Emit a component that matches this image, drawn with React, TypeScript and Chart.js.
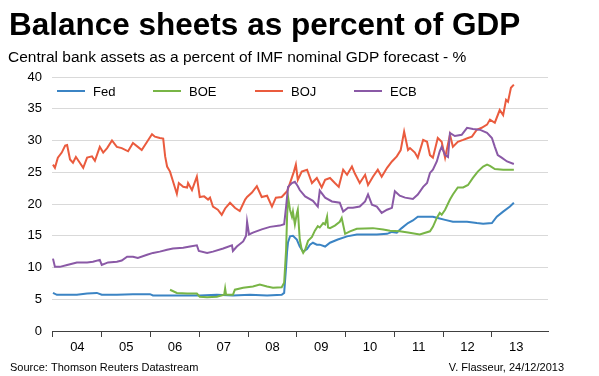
import React, { useEffect, useRef } from 'react';
import { Chart, registerables } from 'chart.js';

Chart.register(...registerables);

const TITLE = 'Balance sheets as percent of GDP';
const SUBTITLE = 'Central bank assets as a percent of IMF nominal GDP forecast - %';
const SOURCE = 'Source: Thomson Reuters Datastream';
const CREDIT = 'V. Flasseur, 24/12/2013';

const seriesNames = ['Fed', 'BOE', 'BOJ', 'ECB'];
const seriesColors = ['#3b84c4', '#78b546', '#ea5b3e', '#8a59a6'];

const yearLabels = ['04', '05', '06', '07', '08', '09', '10', '11', '12', '13'];
const yTickValues = [0, 5, 10, 15, 20, 25, 30, 35, 40];

// Dates are decimal years on the chart's time axis
const fedDates = [2004.00, 2004.08, 2004.49, 2004.70, 2004.90, 2005.00, 2005.31, 2005.64, 2005.99, 2006.05, 2006.34, 2007.01, 2007.36, 2007.69, 2008.04, 2008.39, 2008.69, 2008.74, 2008.78, 2008.80, 2008.82, 2008.86, 2008.92, 2009.00, 2009.06, 2009.13, 2009.21, 2009.27, 2009.33, 2009.41, 2009.47, 2009.58, 2009.68, 2009.84, 2010.03, 2010.23, 2010.64, 2010.85, 2010.95, 2011.05, 2011.15, 2011.28, 2011.38, 2011.48, 2011.79, 2011.89, 2012.04, 2012.20, 2012.49, 2012.69, 2012.82, 2013.00, 2013.10, 2013.23, 2013.37, 2013.45];
const fedValues = [6.0, 5.7, 5.7, 5.9, 6.0, 5.7, 5.7, 5.8, 5.8, 5.6, 5.6, 5.6, 5.7, 5.6, 5.7, 5.6, 5.7, 6.0, 10.1, 12.5, 14.0, 14.9, 15.0, 14.4, 13.3, 12.5, 12.9, 13.6, 13.9, 13.6, 13.6, 13.3, 13.9, 14.4, 14.9, 15.2, 15.2, 15.3, 15.6, 15.5, 16.2, 17.0, 17.4, 18.0, 18.0, 17.8, 17.5, 17.2, 17.2, 17.0, 16.9, 17.0, 18.0, 18.8, 19.6, 20.2];

const boeDates = [2006.40, 2006.54, 2006.75, 2006.95, 2007.01, 2007.16, 2007.36, 2007.51, 2007.53, 2007.55, 2007.69, 2007.73, 2007.90, 2008.10, 2008.24, 2008.39, 2008.51, 2008.69, 2008.74, 2008.78, 2008.80, 2008.82, 2008.86, 2008.90, 2008.92, 2008.96, 2009.00, 2009.02, 2009.06, 2009.10, 2009.13, 2009.17, 2009.23, 2009.31, 2009.37, 2009.43, 2009.47, 2009.54, 2009.58, 2009.62, 2009.64, 2009.68, 2009.78, 2009.88, 2009.92, 2009.99, 2010.09, 2010.23, 2010.56, 2010.77, 2010.91, 2011.11, 2011.28, 2011.52, 2011.73, 2011.79, 2011.87, 2011.93, 2011.97, 2012.04, 2012.14, 2012.20, 2012.30, 2012.41, 2012.51, 2012.61, 2012.71, 2012.82, 2012.90, 2012.96, 2013.06, 2013.23, 2013.45];
const boeValues = [6.5, 6.0, 5.9, 5.9, 5.4, 5.3, 5.4, 5.7, 6.7, 5.7, 5.7, 6.5, 6.8, 7.0, 7.3, 7.0, 6.8, 6.9, 7.6, 12.8, 18.0, 21.1, 19.1, 18.0, 18.8, 16.8, 18.5, 19.1, 14.4, 12.8, 12.3, 12.8, 14.2, 14.8, 15.8, 16.5, 16.3, 17.0, 16.8, 18.0, 16.3, 16.2, 16.6, 17.2, 17.8, 15.3, 15.7, 16.1, 16.2, 16.0, 15.8, 15.7, 15.5, 15.2, 15.7, 16.4, 17.8, 18.6, 18.3, 19.1, 20.7, 21.5, 22.6, 22.6, 23.0, 24.1, 25.1, 25.9, 26.2, 26.0, 25.5, 25.4, 25.4];

const bojDates = [2004.00, 2004.04, 2004.10, 2004.18, 2004.25, 2004.29, 2004.35, 2004.41, 2004.47, 2004.55, 2004.62, 2004.70, 2004.80, 2004.86, 2004.96, 2005.03, 2005.11, 2005.21, 2005.31, 2005.41, 2005.54, 2005.64, 2005.74, 2005.82, 2005.93, 2006.03, 2006.09, 2006.19, 2006.26, 2006.30, 2006.34, 2006.40, 2006.50, 2006.54, 2006.58, 2006.67, 2006.75, 2006.77, 2006.85, 2006.95, 2007.01, 2007.10, 2007.18, 2007.22, 2007.28, 2007.38, 2007.46, 2007.53, 2007.63, 2007.73, 2007.83, 2007.94, 2007.98, 2008.08, 2008.18, 2008.28, 2008.39, 2008.49, 2008.57, 2008.69, 2008.80, 2008.86, 2008.94, 2008.98, 2009.02, 2009.10, 2009.21, 2009.31, 2009.41, 2009.51, 2009.58, 2009.68, 2009.78, 2009.86, 2009.95, 2010.03, 2010.13, 2010.19, 2010.29, 2010.40, 2010.46, 2010.56, 2010.66, 2010.74, 2010.85, 2010.95, 2011.05, 2011.13, 2011.20, 2011.28, 2011.32, 2011.42, 2011.48, 2011.59, 2011.67, 2011.73, 2011.79, 2011.89, 2011.97, 2012.04, 2012.14, 2012.20, 2012.30, 2012.41, 2012.51, 2012.59, 2012.69, 2012.79, 2012.90, 2012.96, 2013.06, 2013.16, 2013.23, 2013.29, 2013.33, 2013.39, 2013.45];
const bojValues = [26.2, 25.7, 27.3, 28.1, 29.2, 29.3, 27.0, 26.5, 27.4, 26.5, 25.7, 27.3, 27.5, 26.8, 29.0, 28.1, 28.8, 30.0, 29.0, 28.8, 28.3, 29.6, 29.0, 28.5, 29.8, 31.0, 30.6, 30.4, 30.3, 27.5, 25.9, 25.1, 22.6, 21.6, 23.3, 22.7, 22.6, 23.3, 22.2, 24.3, 21.1, 21.2, 20.7, 21.0, 19.6, 19.1, 18.3, 19.3, 20.2, 19.4, 18.9, 20.7, 21.1, 21.8, 22.8, 21.1, 21.3, 19.6, 21.0, 21.1, 22.0, 23.3, 25.1, 26.2, 23.8, 25.1, 25.4, 23.3, 24.1, 22.6, 23.8, 24.1, 23.3, 22.7, 25.4, 24.6, 25.9, 24.8, 23.3, 24.6, 23.0, 24.3, 25.4, 24.3, 25.7, 26.7, 27.5, 28.5, 31.4, 28.5, 28.8, 28.1, 27.3, 30.1, 29.8, 27.7, 27.3, 30.4, 29.8, 27.3, 30.9, 29.0, 29.8, 30.1, 30.4, 30.6, 31.7, 32.0, 32.5, 33.3, 32.8, 34.8, 34.0, 36.4, 36.1, 38.3, 38.8];

const ecbDates = [2004.00, 2004.04, 2004.14, 2004.29, 2004.49, 2004.70, 2004.82, 2004.96, 2005.00, 2005.13, 2005.31, 2005.41, 2005.52, 2005.64, 2005.74, 2005.93, 2006.05, 2006.19, 2006.34, 2006.46, 2006.67, 2006.81, 2006.95, 2006.99, 2007.16, 2007.28, 2007.49, 2007.67, 2007.69, 2007.77, 2007.90, 2007.96, 2007.98, 2008.02, 2008.10, 2008.28, 2008.45, 2008.65, 2008.74, 2008.78, 2008.82, 2008.90, 2008.96, 2009.02, 2009.06, 2009.17, 2009.33, 2009.43, 2009.47, 2009.58, 2009.72, 2009.88, 2009.95, 2010.05, 2010.15, 2010.29, 2010.40, 2010.46, 2010.54, 2010.64, 2010.74, 2010.85, 2010.95, 2011.01, 2011.11, 2011.22, 2011.38, 2011.48, 2011.59, 2011.67, 2011.73, 2011.79, 2011.87, 2011.93, 2011.97, 2012.04, 2012.10, 2012.14, 2012.24, 2012.38, 2012.49, 2012.61, 2012.75, 2012.90, 2013.00, 2013.06, 2013.12, 2013.20, 2013.31, 2013.45];
const ecbValues = [11.4, 10.1, 10.1, 10.4, 10.8, 10.8, 10.9, 11.2, 10.4, 10.8, 10.9, 11.1, 11.7, 11.7, 11.5, 12.0, 12.3, 12.5, 12.8, 13.0, 13.1, 13.3, 13.5, 12.6, 12.3, 12.5, 13.0, 13.5, 12.6, 13.3, 14.1, 15.0, 17.2, 15.2, 15.5, 16.0, 16.4, 16.6, 16.8, 19.6, 22.7, 23.3, 23.5, 22.8, 22.2, 21.2, 20.5, 19.6, 22.1, 21.0, 20.4, 20.2, 18.8, 19.4, 19.4, 19.6, 20.4, 21.5, 19.9, 19.6, 18.6, 19.1, 19.4, 22.0, 21.3, 21.0, 20.8, 21.5, 22.7, 23.3, 24.9, 25.4, 26.7, 28.3, 29.0, 27.7, 27.4, 31.2, 30.7, 30.9, 32.0, 31.8, 31.7, 31.2, 30.4, 29.0, 27.7, 27.3, 26.7, 26.3];

const seriesDates = [fedDates, boeDates, bojDates, ecbDates];
const seriesValues = [fedValues, boeValues, bojValues, ecbValues];

const FONT = 'Arial, "Liberation Sans", sans-serif';

const xTickValues: number[] = [];
yearLabels.forEach((_, i) => {
  xTickValues.push(2004 + i);
  xTickValues.push(2004 + i + 0.5);
});

const textPlugin = {
  id: 'textPlugin',
  afterDraw(chart: any) {
    const ctx = chart.ctx;
    const area = chart.chartArea;
    ctx.save();
    ctx.fillStyle = '#000';
    ctx.textBaseline = 'alphabetic';
    ctx.textAlign = 'left';
    ctx.font = `bold 31.5px ${FONT}`;
    ctx.fillText(TITLE, 9, 35);
    ctx.font = `15.5px ${FONT}`;
    ctx.fillText(SUBTITLE, 8, 62);
    ctx.font = `11px ${FONT}`;
    ctx.fillText(SOURCE, 10, 371);
    ctx.textAlign = 'right';
    ctx.fillText(CREDIT, 564, 371);

    // legend inside plot
    const offsets = [5, 101, 203, 302];
    const ly = area.top + 14;
    ctx.textAlign = 'left';
    ctx.textBaseline = 'middle';
    ctx.font = `13px ${FONT}`;
    seriesNames.forEach((name, i) => {
      const x0 = area.left + offsets[i];
      ctx.strokeStyle = seriesColors[i];
      ctx.lineWidth = 2;
      ctx.beginPath();
      ctx.moveTo(x0, ly);
      ctx.lineTo(x0 + 28, ly);
      ctx.stroke();
      ctx.fillStyle = '#000';
      ctx.fillText(name, x0 + 36, ly + 1);
    });
    ctx.restore();
  },
};

export default function App() {
  const canvasRef = useRef<HTMLCanvasElement | null>(null);

  useEffect(() => {
    if (!canvasRef.current) return;
    const datasets = seriesNames.map((name, i) => ({
      label: name,
      data: seriesDates[i].map((d, j) => ({ x: d, y: seriesValues[i][j] })),
      borderColor: seriesColors[i],
      backgroundColor: seriesColors[i],
      borderWidth: 2,
      pointRadius: 0,
      tension: 0,
      fill: false,
      order: 3 - i,
    }));

    const chart = new Chart(canvasRef.current, {
      type: 'line',
      data: { datasets },
      options: {
        animation: false,
        responsive: false,
        devicePixelRatio: 1,
        layout: { padding: { top: 77, right: 51, bottom: 0, left: 0 } },
        plugins: {
          legend: { display: false },
          tooltip: { enabled: false },
          title: { display: false },
        },
        scales: {
          x: {
            type: 'linear',
            min: 2003.98,
            max: 2014.15,
            afterBuildTicks: (scale: any) => {
              scale.ticks = xTickValues.map((v) => ({ value: v }));
            },
            afterFit: (scale: any) => {
              scale.height = 45;
            },
            border: { display: true, color: '#404040', width: 1 },
            grid: {
              drawOnChartArea: false,
              drawTicks: true,
              tickLength: 6,
              tickWidth: 1,
              tickColor: (c: any) =>
                c.tick && c.tick.value % 1 === 0 ? '#404040' : 'rgba(0,0,0,0)',
            },
            ticks: {
              autoSkip: false,
              maxRotation: 0,
              minRotation: 0,
              padding: 3,
              color: '#000',
              font: { family: FONT, size: 13 },
              callback: (value: any) => {
                const v = Number(value);
                if (v % 1 === 0) return '';
                return yearLabels[Math.floor(v) - 2004] ?? '';
              },
            },
          },
          y: {
            min: 0,
            max: 40,
            afterBuildTicks: (scale: any) => {
              scale.ticks = yTickValues.map((v) => ({ value: v }));
            },
            afterFit: (scale: any) => {
              scale.width = 52;
            },
            border: { display: false },
            grid: { color: '#d9d9d9', lineWidth: 1, drawTicks: false },
            ticks: {
              padding: 10,
              color: '#000',
              font: { family: FONT, size: 13 },
            },
          },
        },
      },
      plugins: [textPlugin],
    });
    return () => chart.destroy();
  }, []);

  return (
    <div style={{ position: 'absolute', left: 0, top: 0, width: 599, height: 376, background: '#fff' }}>
      <canvas ref={canvasRef} width={599} height={376} style={{ display: 'block' }} />
    </div>
  );
}
